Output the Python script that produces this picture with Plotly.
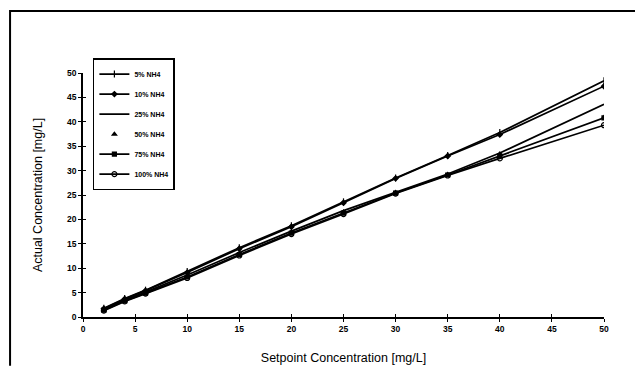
import plotly.graph_objects as go

setpoint = [2, 4, 6, 10, 15, 20, 25, 30, 35, 40, 50]
nh4_5 = [1.8, 3.8, 5.5, 9.3, 14.2, 18.7, 23.6, 28.5, 33.1, 37.8, 48.4]
nh4_10 = [1.7, 3.7, 5.4, 9.1, 14.0, 18.5, 23.4, 28.4, 33.0, 37.4, 47.3]
nh4_25 = [1.6, 3.5, 5.1, 8.6, 13.2, 17.6, 21.8, 25.6, 29.3, 33.6, 43.6]
nh4_50 = [1.5, 3.4, 5.0, 8.4, 13.0, 17.4, 21.5, 25.5, 29.2, 33.4, 40.9]
nh4_75 = [1.4, 3.3, 4.9, 8.2, 12.8, 17.2, 21.3, 25.4, 29.1, 33.0, 40.8]
nh4_100 = [1.3, 3.2, 4.8, 8.0, 12.6, 17.0, 21.1, 25.3, 29.0, 32.5, 39.3]

x_ticks = [0, 5, 10, 15, 20, 25, 30, 35, 40, 45, 50]
y_ticks = [0, 5, 10, 15, 20, 25, 30, 35, 40, 45, 50]

series = [
    ("5% NH4", nh4_5, "lines+markers", "line-ns-open", 5),
    ("10% NH4", nh4_10, "lines+markers", "diamond", 4),
    ("25% NH4", nh4_25, "lines", "circle", 1),
    ("50% NH4", nh4_50, "markers", "triangle-up", 4),
    ("75% NH4", nh4_75, "lines+markers", "square", 4),
    ("100% NH4", nh4_100, "lines+markers", "circle-open", 5),
]

fig = go.Figure()
for i, (name, vals, mode, sym, size) in enumerate(series):
    fig.add_trace(go.Scatter(
        x=setpoint, y=vals, name=name, mode=mode,
        line=dict(color="black", width=1.7),
        marker=dict(symbol=sym, size=size, color="black",
                    line=dict(color="black", width=1.2)),
        legendgroup=str(i),
    ))

# invisible trace on overlay axes so inner tick halves are drawn
fig.add_trace(go.Scatter(x=[None], y=[None], xaxis="x2", yaxis="y2",
                         showlegend=False, hoverinfo="skip"))

font_family = "Liberation Sans, Arial, sans-serif"
tickfont = dict(size=8.5, weight="bold", family=font_family)
fig.update_layout(
    width=627, height=368,
    margin=dict(l=75, r=31, t=65, b=59),
    paper_bgcolor="white", plot_bgcolor="white",
    font=dict(family=font_family, color="black"),
    showlegend=True,
    legend=dict(
        x=0.019, y=1.061, xanchor="left", yanchor="top",
        bordercolor="black", borderwidth=1.5, bgcolor="white",
        font=dict(size=7, family=font_family, color="black", weight="bold"),
        tracegroupgap=1, itemwidth=30,
    ),
    xaxis=dict(
        range=[0, 50], tickvals=x_ticks, ticktext=[str(v) for v in x_ticks],
        showgrid=False, zeroline=False, showline=True, linecolor="black", linewidth=1.5,
        ticks="outside", ticklen=3, tickcolor="black", tickwidth=1.2,
        tickfont=tickfont,
        title=dict(text="Setpoint Concentration [mg/L]", font=dict(size=12.5), standoff=20),
    ),
    yaxis=dict(
        range=[0, 50], tickvals=y_ticks, ticktext=[str(v) for v in y_ticks],
        showgrid=False, zeroline=False, showline=True, linecolor="black", linewidth=1.5,
        ticks="outside", ticklen=3, tickcolor="black", tickwidth=1.2,
        tickfont=tickfont,
        title=dict(text="Actual Concentration [mg/L]", font=dict(size=12.5), standoff=22),
    ),
    xaxis2=dict(
        range=[0, 50], tickvals=x_ticks, overlaying="x", side="bottom", anchor="y",
        showgrid=False, zeroline=False, showline=False, showticklabels=False,
        ticks="inside", ticklen=3, tickcolor="black", tickwidth=1.2,
    ),
    yaxis2=dict(
        range=[0, 50], tickvals=y_ticks, overlaying="y", side="left", anchor="x",
        showgrid=False, zeroline=False, showline=False, showticklabels=False,
        ticks="inside", ticklen=3, tickcolor="black", tickwidth=1.2,
    ),
    shapes=[
        dict(type="path", xref="paper", yref="paper",
             path="M -0.140,-0.2 L -0.140,1.254 L 1.06,1.254",
             line=dict(color="black", width=2), fillcolor="rgba(0,0,0,0)",
             layer="below"),
    ],
)

fig.write_html("out.html")
